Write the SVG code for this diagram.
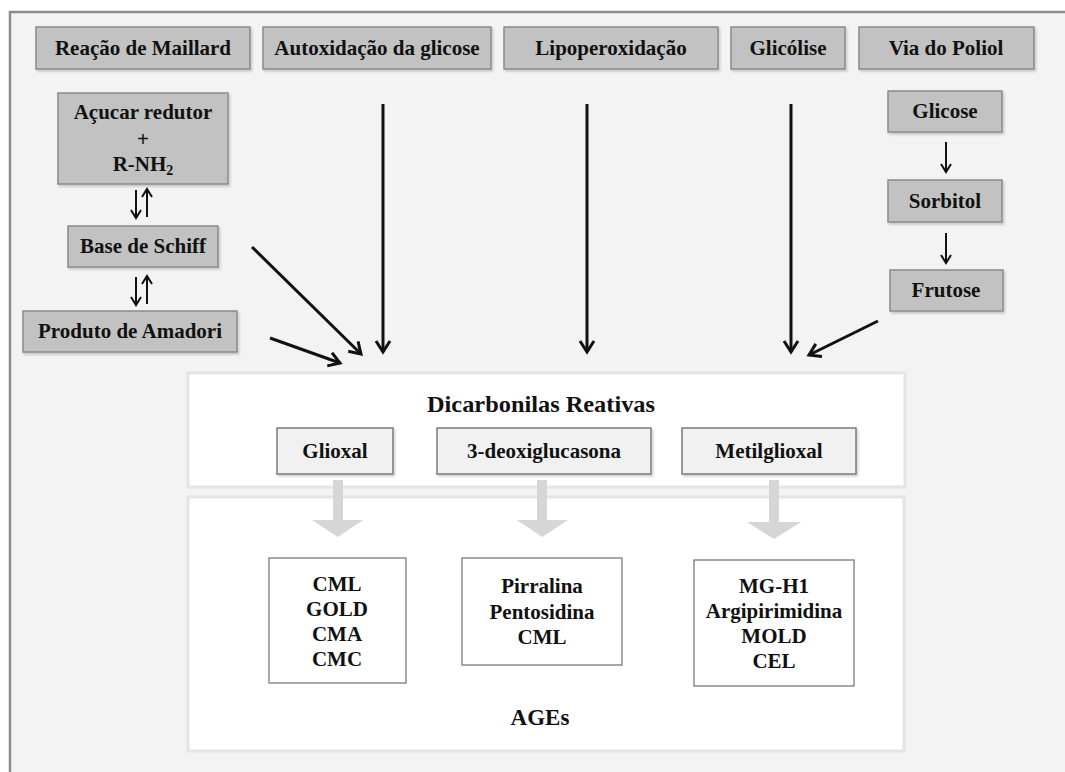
<svg xmlns="http://www.w3.org/2000/svg" width="1065" height="772" viewBox="0 0 1065 772">
<defs>
<style>
.t{font-family:"Liberation Serif","Times New Roman",serif;font-weight:bold;font-size:21px;fill:#111;text-anchor:middle}
.gbox{fill:#c2c2c2;stroke:#8a8a8a;stroke-width:1.5;filter:url(#sh)}
.lbox{fill:#f1f1f1;stroke:#7a7a7a;stroke-width:1.5;filter:url(#sh)}
.wbox{fill:#ffffff;stroke:#7a7a7a;stroke-width:1.3}
.panel{fill:#ffffff;stroke:#e4e4e4;stroke-width:3}
.con{stroke:#111;stroke-width:3;fill:none;marker-end:url(#ah)}
.con2{stroke:#111;stroke-width:2;fill:none;marker-end:url(#ah2)}
.garrow{fill:#d6d6d6}
</style>
<filter id="sh" x="-5%" y="-10%" width="115%" height="130%">
<feDropShadow dx="1.5" dy="2" stdDeviation="1" flood-color="#000" flood-opacity="0.18"/>
</filter>
<marker id="ah" markerUnits="userSpaceOnUse" markerWidth="20" markerHeight="20" refX="14" refY="10" orient="auto">
<path d="M3,3 L14,10 L3,17" stroke="#111" stroke-width="3" fill="none"/>
</marker>
<marker id="ah2" markerUnits="userSpaceOnUse" markerWidth="16" markerHeight="16" refX="11" refY="8" orient="auto">
<path d="M3,3 L11,8 L3,13" stroke="#111" stroke-width="2" fill="none"/>
</marker>
</defs>
<rect x="0" y="0" width="1065" height="772" fill="#ffffff"/>
<rect x="10" y="12" width="1060" height="770" fill="#f3f3f3"/>
<path d="M10,772 L10,12 L1065,12" fill="none" stroke="#8c8c8c" stroke-width="2.5"/>

<g id="panel-dicarbonilas">
<rect class="panel" x="188" y="373" width="717" height="114"/>
<text class="t" x="541" y="412" textLength="228" lengthAdjust="spacingAndGlyphs" style="font-size:24px">Dicarbonilas Reativas</text>
</g>
<g id="panel-ages">
<rect class="panel" x="188" y="497" width="716" height="254"/>
<text class="t" x="540" y="725" style="font-size:23px">AGEs</text>
</g>

<g id="connectors">
<line class="con" x1="383" y1="104" x2="383" y2="352"/>
<line class="con" x1="587" y1="104" x2="587" y2="352"/>
<line class="con" x1="791" y1="104" x2="791" y2="352"/>
<line class="con" x1="252" y1="247" x2="361" y2="354"/>
<line class="con" x1="270" y1="338" x2="340" y2="363"/>
<line class="con" x1="878" y1="321" x2="809" y2="355"/>
<line class="con2" x1="946" y1="142" x2="946" y2="172"/>
<line class="con2" x1="946" y1="233" x2="946" y2="263"/>
<line class="con2" x1="136" y1="190" x2="136" y2="218"/>
<line class="con2" x1="147" y1="217" x2="147" y2="189"/>
<line class="con2" x1="136" y1="277" x2="136" y2="305"/>
<line class="con2" x1="147" y1="304" x2="147" y2="276"/>
<path class="garrow" d="M333,480 H343 V520 H363 L338,537 L312,520 H333 Z"/>
<path class="garrow" d="M537,480 H547 V520 H568 L542,537 L517,520 H537 Z"/>
<path class="garrow" d="M769,480 H779 V522 H801 L774,539 L747,522 H769 Z"/>
</g>

<g id="n-maillard"><rect class="gbox" x="36" y="27" width="214" height="42"/><text class="t" x="143" y="55">Reação de Maillard</text></g>
<g id="n-autox"><rect class="gbox" x="263" y="27" width="228" height="42"/><text class="t" x="377" y="55">Autoxidação da glicose</text></g>
<g id="n-lipo"><rect class="gbox" x="504" y="27" width="214" height="42"/><text class="t" x="611" y="55">Lipoperoxidação</text></g>
<g id="n-glicolise"><rect class="gbox" x="731" y="27" width="114" height="42"/><text class="t" x="788" y="55">Glicólise</text></g>
<g id="n-poliol"><rect class="gbox" x="859" y="27" width="175" height="42"/><text class="t" x="946" y="55">Via do Poliol</text></g>

<g id="n-acucar"><rect class="gbox" x="58" y="93" width="170" height="91"/>
<text class="t" x="143" y="119">Açucar redutor</text>
<text class="t" x="143" y="146">+</text>
<text class="t" x="143" y="171">R-NH<tspan dy="4" style="font-size:14px">2</tspan></text></g>
<g id="n-schiff"><rect class="gbox" x="68" y="226" width="150" height="41"/><text class="t" x="143" y="253">Base de Schiff</text></g>
<g id="n-amadori"><rect class="gbox" x="23" y="311" width="214" height="41"/><text class="t" x="130" y="338">Produto de Amadori</text></g>

<g id="n-glicose"><rect class="gbox" x="888" y="91" width="114" height="41"/><text class="t" x="945" y="118">Glicose</text></g>
<g id="n-sorbitol"><rect class="gbox" x="888" y="180" width="114" height="42"/><text class="t" x="945" y="208">Sorbitol</text></g>
<g id="n-frutose"><rect class="gbox" x="890" y="270" width="113" height="41"/><text class="t" x="946" y="297">Frutose</text></g>

<g id="n-glioxal"><rect class="lbox" x="277" y="428" width="116" height="46"/><text class="t" x="335" y="458">Glioxal</text></g>
<g id="n-deoxi"><rect class="lbox" x="437" y="428" width="214" height="46"/><text class="t" x="544" y="458">3-deoxiglucasona</text></g>
<g id="n-metil"><rect class="lbox" x="682" y="428" width="174" height="46"/><text class="t" x="769" y="458">Metilglioxal</text></g>

<g id="n-ages1"><rect class="wbox" x="269" y="558" width="137" height="125"/>
<text class="t" x="337" y="591">CML</text><text class="t" x="337" y="616">GOLD</text><text class="t" x="337" y="641">CMA</text><text class="t" x="337" y="666">CMC</text></g>
<g id="n-ages2"><rect class="wbox" x="462" y="558" width="160" height="107"/>
<text class="t" x="542" y="593">Pirralina</text><text class="t" x="542" y="619">Pentosidina</text><text class="t" x="542" y="644">CML</text></g>
<g id="n-ages3"><rect class="wbox" x="694" y="560" width="160" height="126"/>
<text class="t" x="774" y="593">MG-H1</text><text class="t" x="774" y="618">Argipirimidina</text><text class="t" x="774" y="643">MOLD</text><text class="t" x="774" y="668">CEL</text></g>
</svg>
